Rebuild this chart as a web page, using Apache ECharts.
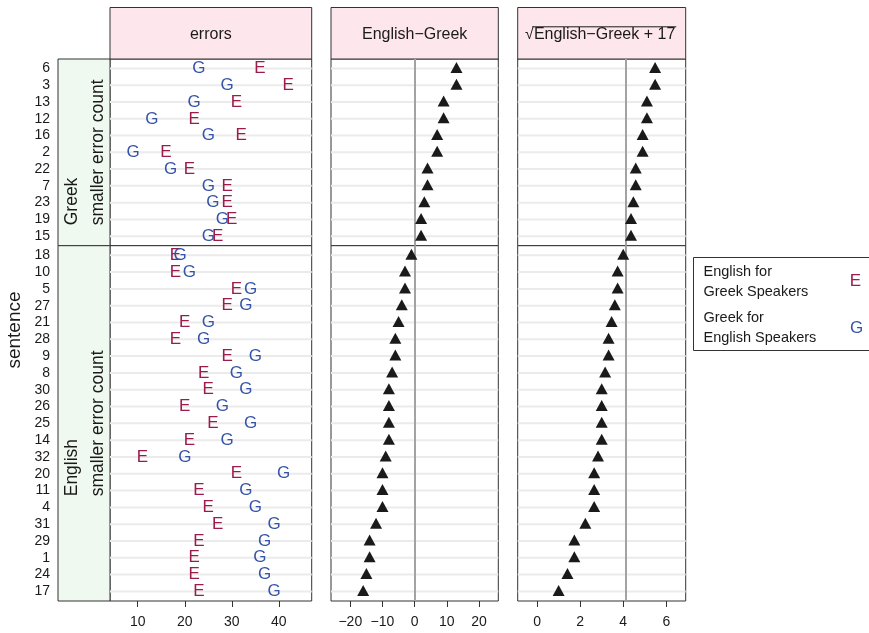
<!DOCTYPE html>
<html><head><meta charset="utf-8">
<script src="https://cdn.jsdelivr.net/npm/echarts@6/dist/echarts.min.js"></script>
<style>html,body{margin:0;padding:0;background:#fff}#c{width:869px;height:633px}</style>
</head><body><div id="c"></div>
<script>
// ---- data ----
const sentTop = ['6','3','13','12','16','2','22','7','23','19','15'];
const eTop    = [36,42,31,22,32,16,21,29,29,30,27];
const gTop    = [23,29,22,13,25, 9,17,25,26,28,25];
const diffTop = [13,13,9,9,7,7,4,4,3,2,2];
const sqrtTop = [5.48,5.48,5.10,5.10,4.90,4.90,4.58,4.58,4.47,4.36,4.36];

const sentBot = ['18','10','5','27','21','28','9','8','30','26','25','14','32','20','11','4','31','29','1','24','17'];
const eBot    = [18,18,31,29,20,18,29,24,25,20,26,21,11,31,23,25,27,23,22,22,23];
const gBot    = [19,21,34,33,25,24,35,31,33,28,34,29,20,41,33,35,39,37,36,37,39];
const diffBot = [-1,-3,-3,-4,-5,-6,-6,-7,-8,-8,-8,-8,-9,-10,-10,-10,-12,-14,-14,-15,-16];
const sqrtBot = [4.00,3.74,3.74,3.61,3.46,3.32,3.32,3.16,3.00,3.00,3.00,3.00,2.83,2.65,2.65,2.65,2.24,1.73,1.73,1.41,1.00];

const panelTitles = ['errors', 'English\u2212Greek', 'English\u2212Greek + 17'];
const rowTitles = ['Greek', 'English'];
const rowSub = 'smaller error count';
const legendLabels = [['English for','Greek Speakers'],['Greek for','English Speakers']];
const xTicks1 = [10,20,30,40];
const xTicks2 = [-20,-10,0,10,20];
const xTicks3 = [0,2,4,6];
const refLines = [null, 0, Math.sqrt(17)];

// ---- layout / style ----
const FONT = '"Liberation Sans", Arial, Helvetica, sans-serif';
const colE = '#9B1B4C', colG = '#3553A8';
const TXT = '#1a1a1a';
const cols = [{left:110, width:201.7},{left:331, width:167.3},{left:517.7, width:168}];
const rows = [{top:59, height:186.7},{top:245.7, height:355.3}];
const xRanges = [[4.1,47],[-26,26],[-0.9,6.9]];
const xTicks = [xTicks1, xTicks2, xTicks3];
const PAD = 0.57;

const rowData = [
  {names: sentTop, e: eTop, g: gTop, d: diffTop, s: sqrtTop},
  {names: sentBot, e: eBot, g: gBot, d: diffBot, s: sqrtBot}
];

const ctx = document.createElement('canvas').getContext('2d');
function tw(s, size){ ctx.font = size + 'px ' + FONT; return ctx.measureText(s).width; }
const fmtNum = v => v < 0 ? '\u2212' + Math.abs(v) : String(v);

const grid = [], xAxis = [], yAxis = [], series = [];
rows.forEach((r, ri) => {
  const rd = rowData[ri];
  const n = rd.names.length;
  const idx = rd.names.map((_, i) => i);
  cols.forEach((c, ci) => {
    const gi = grid.length;
    grid.push({left: c.left, top: r.top, width: c.width, height: r.height,
      show: true, borderColor: '#333', borderWidth: 1, backgroundColor: '#fff', containLabel: false});
    xAxis.push({type: 'value', gridIndex: gi, show: ri === 1, position: 'bottom', min: xRanges[ci][0], max: xRanges[ci][1],
      axisLine: {show: false, onZero: false}, splitLine: {show: false},
      axisTick: {show: ri === 1, customValues: xTicks[ci], length: 6, lineStyle: {color: '#333', width: 1}},
      axisLabel: {show: ri === 1, customValues: xTicks[ci], fontSize: 14, fontFamily: FONT, color: TXT, margin: 14, formatter: fmtNum}});
    yAxis.push({type: 'value', gridIndex: gi, show: ci === 0, position: 'left', min: -PAD, max: n - 1 + PAD, inverse: true,
      axisLine: {show: false, onZero: false}, splitLine: {show: false}, axisTick: {show: false},
      axisLabel: {show: ci === 0, customValues: idx, fontSize: 14, fontFamily: FONT, color: TXT, margin: 60,
        formatter: v => rd.names[Math.round(v)]}});
    // horizontal reference lines
    series.push({type: 'custom', xAxisIndex: gi, yAxisIndex: gi, silent: true, z: 1,
      data: idx.map(i => [xRanges[ci][0], i]),
      renderItem: (params, api) => {
        const p = api.coord([api.value(0), api.value(1)]);
        const cs = params.coordSys;
        return {type: 'line', shape: {x1: cs.x, y1: p[1], x2: cs.x + cs.width, y2: p[1]},
          style: {stroke: '#ebebeb', lineWidth: 2}};
      }});
    if (ci === 0) {
      [['E', colE, rd.e], ['G', colG, rd.g]].forEach(([ch, col, vals]) => {
        series.push({type: 'custom', name: ch, xAxisIndex: gi, yAxisIndex: gi, z: 3,
          data: vals.map((v, i) => [v, i]),
          renderItem: (params, api) => {
            const p = api.coord([api.value(0), api.value(1)]);
            return {type: 'text', x: p[0], y: p[1],
              style: {text: ch, fill: col, fontSize: 17, fontFamily: FONT, align: 'center', verticalAlign: 'middle'}};
          }});
      });
    } else {
      const vals = ci === 1 ? rd.d : rd.s;
      series.push({type: 'scatter', xAxisIndex: gi, yAxisIndex: gi, z: 3,
        symbol: 'triangle', symbolSize: [12, 11], symbolOffset: [0, -1],
        itemStyle: {color: '#1a1a1a', opacity: 1},
        data: vals.map((v, i) => [v, i]),
        markLine: {silent: true, symbol: ['none', 'none'], label: {show: false}, z: 2,
          lineStyle: {color: '#a3a3a3', width: 2, type: 'solid'},
          emphasis: {disabled: true},
          data: [{xAxis: refLines[ci]}]}});
    }
  });
});

// ---- strips, labels, legend (graphic) ----
const graphic = [];
const stripTop = 7.5;
cols.forEach((c, ci) => {
  graphic.push({type: 'rect', shape: {x: c.left, y: stripTop, width: c.width, height: rows[0].top - stripTop},
    style: {fill: '#FDE6EC', stroke: '#333', lineWidth: 1}});
});
graphic.push({type: 'text', x: cols[0].left + cols[0].width / 2, y: 35,
  style: {text: panelTitles[0], fontSize: 16, fontFamily: FONT, fill: TXT, align: 'center', verticalAlign: 'middle'}});
graphic.push({type: 'text', x: cols[1].left + cols[1].width / 2, y: 35,
  style: {text: panelTitles[1], fontSize: 16, fontFamily: FONT, fill: TXT, align: 'center', verticalAlign: 'middle'}});
(function(){
  const wr = tw('\u221A', 16), wm = tw(panelTitles[2], 16);
  const cx = cols[2].left + cols[2].width / 2 - 1.5;
  const x0 = cx - (wr + wm) / 2;
  graphic.push({type: 'text', x: x0, y: 35,
    style: {text: '\u221A', fontSize: 16, fontFamily: FONT, fill: TXT, align: 'left', verticalAlign: 'middle'}});
  graphic.push({type: 'text', x: x0 + wr, y: 35,
    style: {text: panelTitles[2], fontSize: 16, fontFamily: FONT, fill: TXT, align: 'left', verticalAlign: 'middle'}});
  graphic.push({type: 'line', shape: {x1: x0 + wr - 1.5, y1: 26.8, x2: x0 + wr + wm + 1, y2: 26.8},
    style: {stroke: TXT, lineWidth: 1}});
})();

const lsX = 58, lsW = cols[0].left - 58;
const wSub = tw(rowSub, 17.5);
rows.forEach((r, ri) => {
  graphic.push({type: 'rect', shape: {x: lsX, y: r.top, width: lsW, height: r.height},
    style: {fill: '#F0F9F0', stroke: '#333', lineWidth: 1}});
  const start = r.top + r.height / 2 + wSub / 2;
  graphic.push({type: 'text', x: 72, y: start, rotation: Math.PI / 2,
    style: {text: rowTitles[ri], fontSize: 17.5, fontFamily: FONT, fill: TXT, align: 'left', verticalAlign: 'middle'}});
  graphic.push({type: 'text', x: 98.5, y: start, rotation: Math.PI / 2,
    style: {text: rowSub, fontSize: 17.5, fontFamily: FONT, fill: TXT, align: 'left', verticalAlign: 'middle'}});
});
graphic.push({type: 'text', x: 14.5, y: (rows[0].top + rows[1].top + rows[1].height) / 2, rotation: Math.PI / 2,
  style: {text: 'sentence', fontSize: 19, fontFamily: FONT, fill: TXT, align: 'center', verticalAlign: 'middle'}});

// legend
graphic.push({type: 'rect', shape: {x: 693.5, y: 257.5, width: 200, height: 93},
  style: {fill: '#fff', stroke: '#333', lineWidth: 1}});
const legY = [[271.7, 291.7], [318.3, 338.3]];
legendLabels.forEach((lines, k) => {
  lines.forEach((t, j) => {
    graphic.push({type: 'text', x: 703.5, y: legY[k][j],
      style: {text: t, fontSize: 14.5, fontFamily: FONT, fill: TXT, align: 'left', verticalAlign: 'middle'}});
  });
});
graphic.push({type: 'text', x: 855.5, y: 281.7,
  style: {text: 'E', fontSize: 17, fontFamily: FONT, fill: colE, align: 'center', verticalAlign: 'middle'}});
graphic.push({type: 'text', x: 856.5, y: 328.3,
  style: {text: 'G', fontSize: 17, fontFamily: FONT, fill: colG, align: 'center', verticalAlign: 'middle'}});

const chart = echarts.init(document.getElementById('c'), null, {renderer: 'canvas'});
chart.setOption({animation: false, backgroundColor: '#fff', grid, xAxis, yAxis, series, graphic});
</script></body></html>
